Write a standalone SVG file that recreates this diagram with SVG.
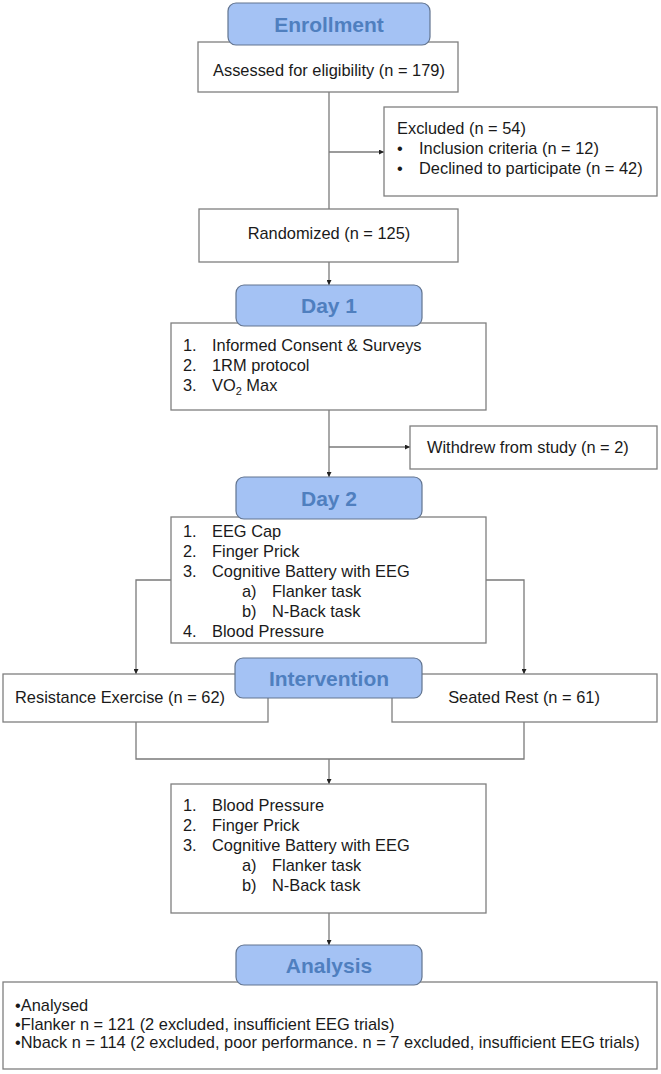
<svg xmlns="http://www.w3.org/2000/svg" width="661" height="1074" viewBox="0 0 661 1074">
  <style>
    .box { fill: #ffffff; stroke: #7f7f7f; stroke-width: 1.3; }
    .hdr { fill: #a4c2f4; stroke: #62748f; stroke-width: 1.2; }
    .hdr-t { font-family: "Liberation Sans", Arial, sans-serif; font-weight: bold; font-size: 21px; fill: #4f7fbf; text-anchor: middle; }
    .t { font-family: "Liberation Sans", Arial, sans-serif; font-size: 16.4px; fill: #1a1a1a; }
    .mid { text-anchor: middle; }
    .conn { fill: none; stroke: #7a7a7a; stroke-width: 1.3; }
  </style>
  <defs>
    <marker id="arrow" viewBox="0 0 10 10" refX="10" refY="5" markerWidth="5" markerHeight="5" markerUnits="userSpaceOnUse" orient="auto">
      <path d="M0,0 L10,5 L0,10 z" fill="#222222"/>
    </marker>
  </defs>
  <rect width="661" height="1074" fill="#ffffff"/>

  <g id="connectors">
    <path class="conn" d="M329,92 V209"/>
    <path class="conn" d="M329,152 H384" marker-end="url(#arrow)"/>
    <path class="conn" d="M329,262 V285" marker-end="url(#arrow)"/>
    <path class="conn" d="M329,410 V477" marker-end="url(#arrow)"/>
    <path class="conn" d="M329,447 H410" marker-end="url(#arrow)"/>
    <path class="conn" d="M171,580 H136 V674" marker-end="url(#arrow)"/>
    <path class="conn" d="M486,580 H524 V674" marker-end="url(#arrow)"/>
    <path class="conn" d="M136,722 V759 H524 V722"/>
    <path class="conn" d="M329,759 V784" marker-end="url(#arrow)"/>
    <path class="conn" d="M329,913 V945" marker-end="url(#arrow)"/>
  </g>

  <g id="assessed">
    <rect class="box" x="198" y="42" width="260" height="50"/>
    <text class="t" x="213" y="76">Assessed for eligibility (n = 179)</text>
  </g>
  <g id="enrollment">
    <rect class="hdr" x="228" y="3" width="202" height="42" rx="8"/>
    <text class="hdr-t" x="329" y="31.5">Enrollment</text>
  </g>

  <g id="excluded">
    <rect class="box" x="384" y="107" width="273" height="89"/>
    <text class="t" x="397" y="134">Excluded (n = 54)</text>
    <text class="t" x="397" y="154">•</text>
    <text class="t" x="419" y="154">Inclusion criteria (n = 12)</text>
    <text class="t" x="397" y="174">•</text>
    <text class="t" x="419" y="174">Declined to participate (n = 42)</text>
  </g>

  <g id="randomized">
    <rect class="box" x="199" y="209" width="259" height="53"/>
    <text class="t mid" x="329" y="239">Randomized (n = 125)</text>
  </g>

  <g id="day1-steps">
    <rect class="box" x="171" y="323" width="315" height="87"/>
    <text class="t" x="183" y="351">1.</text>
    <text class="t" x="212" y="351">Informed Consent &amp; Surveys</text>
    <text class="t" x="183" y="371">2.</text>
    <text class="t" x="212" y="371">1RM protocol</text>
    <text class="t" x="183" y="391">3.</text>
    <text class="t" x="212" y="391">VO<tspan font-size="11px" dy="4">2</tspan><tspan dy="-4"> Max</tspan></text>
  </g>
  <g id="day1">
    <rect class="hdr" x="236" y="285" width="186" height="41" rx="8"/>
    <text class="hdr-t" x="329" y="313">Day 1</text>
  </g>

  <g id="withdrew">
    <rect class="box" x="410" y="426" width="247" height="43"/>
    <text class="t" x="427" y="453">Withdrew from study (n = 2)</text>
  </g>

  <g id="day2-steps">
    <rect class="box" x="171" y="517" width="315" height="126"/>
    <text class="t" x="183" y="537">1.</text>
    <text class="t" x="212" y="537">EEG Cap</text>
    <text class="t" x="183" y="557">2.</text>
    <text class="t" x="212" y="557">Finger Prick</text>
    <text class="t" x="183" y="577">3.</text>
    <text class="t" x="212" y="577">Cognitive Battery with EEG</text>
    <text class="t" x="242" y="597">a)</text>
    <text class="t" x="272" y="597">Flanker task</text>
    <text class="t" x="242" y="617">b)</text>
    <text class="t" x="272" y="617">N-Back task</text>
    <text class="t" x="183" y="637">4.</text>
    <text class="t" x="212" y="637">Blood Pressure</text>
  </g>
  <g id="day2">
    <rect class="hdr" x="236" y="477" width="186" height="42" rx="8"/>
    <text class="hdr-t" x="329" y="505.5">Day 2</text>
  </g>

  <g id="resistance">
    <rect class="box" x="3" y="674" width="265" height="48"/>
    <text class="t" x="15" y="703">Resistance Exercise (n = 62)</text>
  </g>
  <g id="seated">
    <rect class="box" x="392" y="674" width="265" height="48"/>
    <text class="t mid" x="524" y="703">Seated Rest (n = 61)</text>
  </g>
  <g id="intervention">
    <rect class="hdr" x="235" y="658" width="187" height="40" rx="8"/>
    <text class="hdr-t" x="329" y="685.5">Intervention</text>
  </g>

  <g id="post-steps">
    <rect class="box" x="171" y="784" width="315" height="129"/>
    <text class="t" x="183" y="811">1.</text>
    <text class="t" x="212" y="811">Blood Pressure</text>
    <text class="t" x="183" y="831">2.</text>
    <text class="t" x="212" y="831">Finger Prick</text>
    <text class="t" x="183" y="851">3.</text>
    <text class="t" x="212" y="851">Cognitive Battery with EEG</text>
    <text class="t" x="242" y="871">a)</text>
    <text class="t" x="272" y="871">Flanker task</text>
    <text class="t" x="242" y="891">b)</text>
    <text class="t" x="272" y="891">N-Back task</text>
  </g>

  <g id="analysis-summary">
    <rect class="box" x="3" y="982" width="654" height="87"/>
    <text class="t" x="15" y="1011">•Analysed</text>
    <text class="t" x="15" y="1029.5">•Flanker n = 121 (2 excluded, insufficient EEG trials)</text>
    <text class="t" x="15" y="1048">•Nback n = 114 (2 excluded, poor performance. n = 7 excluded, insufficient EEG trials)</text>
  </g>
  <g id="analysis">
    <rect class="hdr" x="236" y="945" width="186" height="40" rx="8"/>
    <text class="hdr-t" x="329" y="972.5">Analysis</text>
  </g>
</svg>
